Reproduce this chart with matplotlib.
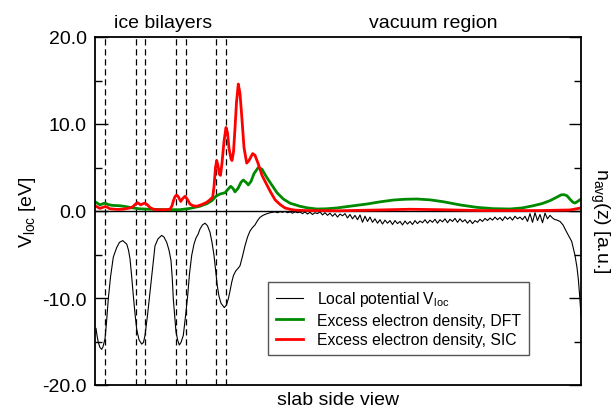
import numpy as np
import matplotlib
matplotlib.use("Agg")
import matplotlib.pyplot as plt
from matplotlib.ticker import MultipleLocator

plt.rcParams["font.family"] = ["Liberation Sans", "DejaVu Sans"]
plt.rcParams["mathtext.default"] = "regular"

# positions of the ice bilayer planes (dashed lines)
layer_z = [1.0, 4.1, 5.0, 8.1, 9.1, 12.1, 13.1]

# local potential, structured slab part
vloc_z = [0.1, 0.2, 0.33, 0.5, 0.67, 0.8, 1.0, 1.15, 1.33, 1.55, 1.83, 2.17, 2.45, 2.77,
          3.17, 3.35, 3.5, 3.65, 3.83, 4.0, 4.17, 4.4, 4.67, 4.85, 5.0, 5.25, 5.5, 5.75,
          6.0, 6.3, 6.67, 6.9, 7.17, 7.4, 7.6, 7.73, 7.83, 7.98, 8.1, 8.28, 8.43, 8.6,
          8.83, 9.05, 9.27, 9.45, 9.67, 9.9, 10.1, 10.3, 10.5, 10.75, 11.0, 11.25, 11.5,
          11.7, 11.9, 12.07, 12.23, 12.4, 12.6, 12.93, 13.15, 13.33, 13.5, 13.67, 13.85,
          14.07, 14.3, 14.5, 14.75, 15.0, 15.25, 15.5, 15.75, 16.0, 16.25, 16.5, 16.8,
          17.1, 17.5]
vloc_v = [-13.5, -14.3, -15.1, -15.7, -15.9, -15.6, -14.7, -12.8, -10.1, -7.6, -5.3, -4.2,
          -3.6, -3.4, -3.8, -4.5, -5.5, -7.3, -9.7, -11.8, -13.6, -14.8, -15.3, -15.1,
          -14.3, -12.0, -9.3, -6.5, -4.0, -3.2, -2.8, -3.0, -3.6, -4.5, -5.7, -7.8, -10.1,
          -12.3, -13.9, -14.9, -15.4, -15.1, -14.3, -12.1, -9.7, -7.2, -5.1, -3.8, -3.1,
          -2.7, -2.07, -1.6, -1.4, -1.7, -2.45, -3.6, -5.1, -6.9, -8.6, -9.8, -10.6, -11.1,
          -10.8, -10.1, -9.2, -8.2, -7.4, -6.9, -6.6, -6.3, -5.2, -4.0, -3.0, -2.3, -1.9,
          -1.6, -1.1, -0.73, -0.5, -0.35, -0.2]

# local potential in the vacuum region (noisy plateau), sampled on a regular grid
vloc_vac = [-0.15, -0.1, -0.2, -0.08, -0.15, -0.05, -0.2, -0.1, -0.25, -0.1, -0.2, -0.12,
            -0.3, -0.1, -0.35, -0.15, -0.4, -0.2, -0.3, -0.1, -0.45, -0.2,
            -0.5, -0.25, -0.6, -0.3, -0.7, -0.35, -0.55, -0.3,
            -0.8, -0.4, -0.9, -0.5, -1.0, -0.45, -1.3, -0.6, -1.2, -0.7,
            -1.3, -0.9, -1.4, -1.0, -1.5, -1.05, -1.4, -1.1, -1.55, -1.1,
            -1.45, -1.2, -1.6, -1.15, -1.5, -1.2, -1.55, -1.1, -1.45, -1.15,
            -1.35, -1.0, -1.4, -1.05, -1.3, -0.95, -1.4, -1.0, -1.25, -0.9,
            -1.35, -0.95, -1.2, -0.85, -1.3, -0.9, -1.25, -1.0,
            -1.4, -1.05, -1.45, -1.1, -1.3, -0.95, -1.2, -0.85, -1.1, -0.8,
            -1.05, -0.7, -1.0, -0.75, -1.1, -0.65, -0.95, -0.7, -1.05, -0.6, -0.9, -0.7,
            -1.0, -0.6,
            -1.2, -0.3, -1.3, -0.2, -1.1, -0.4, -1.35, -0.25, -0.9, -0.5, -0.8, -1.0]
vac_start, vac_end = 17.75, 46.0

# drop of the potential at the right edge
edge_z = [46.1, 46.5, 46.8, 47.2, 47.67, 48.0, 48.2, 48.33, 48.45, 48.55, 48.6]
edge_v = [-1.0, -1.2, -1.6, -2.5, -3.5, -5.1, -6.5, -7.8, -9.5, -11.2, -12.0]

# excess electron density, SIC
sic_z = [0.1, 0.5, 0.8, 1.0, 1.2, 1.5, 2.2, 2.8, 3.5, 3.8, 4.1, 4.27, 4.4, 4.57, 4.75,
         5.0, 5.2, 5.5, 5.8, 6.2, 7.0, 7.5, 7.7, 7.85, 8.0, 8.17, 8.35, 8.57, 8.75, 9.0,
         9.2, 9.5, 9.8, 10.2, 10.7, 11.17, 11.5, 11.77, 11.9, 12.05, 12.17, 12.3, 12.45,
         12.55, 12.7, 12.9, 13.1, 13.25, 13.4, 13.6, 13.7, 13.85, 14.0, 14.15, 14.33,
         14.5, 14.7, 14.9, 15.17, 15.4, 15.77, 16.0, 16.3, 16.7, 17.1, 17.5, 18.0, 18.5,
         19.0, 19.5, 20.0, 21.0, 24.5, 28.5, 31.5, 34.5, 38.5, 44.5, 47.5, 48.6]
sic_n = [0.54, 0.3, 0.42, 0.5, 0.45, 0.25, 0.18, 0.2, 0.35, 0.5, 0.85, 0.95, 0.85, 0.7,
         0.82, 0.9, 0.75, 0.4, 0.22, 0.15, 0.15, 0.2, 0.6, 1.2, 1.65, 1.84, 1.6, 1.1, 1.4,
         1.69, 1.4, 0.8, 0.6, 0.55, 0.75, 1.0, 1.3, 1.6, 2.8, 5.0, 5.8, 5.2, 4.2, 4.1, 5.5,
         8.0, 9.6, 9.0, 7.2, 6.0, 5.8, 6.8, 9.5, 12.5, 14.6, 13.5, 10.5, 7.3, 5.5, 5.8,
         6.6, 6.4, 5.5, 4.1, 3.2, 2.3, 1.3, 0.75, 0.35, 0.2, 0.1, 0.05, 0.03, 0.12, 0.2,
         0.15, 0.05, 0.05, 0.12, 0.35]

# excess electron density, DFT
dft_z = [0.1, 0.3, 0.5, 0.8, 1.0, 1.3, 1.7, 2.5, 3.1, 3.8, 4.5, 5.5, 7.0, 8.5, 9.5, 10.5,
         11.2, 11.7, 12.1, 12.5, 13.0, 13.3, 13.57, 13.8, 14.0, 14.3, 14.6, 14.83, 15.1,
         15.33, 15.6, 15.9, 16.33, 16.7, 17.1, 17.5, 18.2, 18.83, 19.5, 20.5, 21.3, 22.17,
         23.1, 24.17, 25.5, 27.17, 28.5, 29.83, 31.0, 32.17, 33.5, 34.8, 36.5, 38.17, 39.8,
         41.5, 42.7, 43.8, 44.7, 45.5, 46.2, 46.6, 46.9, 47.2, 47.5, 47.8, 48.0, 48.2,
         48.5, 48.6]
dft_n = [1.0, 0.85, 0.7, 0.85, 0.9, 0.75, 0.65, 0.6, 0.5, 0.35, 0.25, 0.2, 0.15, 0.15,
         0.3, 0.55, 0.85, 1.2, 1.7, 1.95, 2.1, 2.5, 2.84, 2.6, 2.2, 2.6, 3.3, 3.56, 3.3,
         3.0, 3.4, 4.3, 5.0, 4.8, 4.0, 3.3, 2.1, 1.38, 0.9, 0.54, 0.35, 0.23, 0.25, 0.35,
         0.55, 0.8, 1.05, 1.26, 1.35, 1.38, 1.28, 1.07, 0.7, 0.42, 0.27, 0.23, 0.35, 0.6,
         0.85, 1.19, 1.6, 1.85, 1.88, 1.75, 1.35, 1.0, 0.92, 1.05, 1.3, 1.35]

vac_z = np.linspace(vac_start, vac_end, len(vloc_vac))
z_all = np.concatenate([vloc_z, vac_z, edge_z])
v_all = np.concatenate([vloc_v, vloc_vac, edge_v])

fig = plt.figure(figsize=(6.13, 4.10), dpi=100)
ax = fig.add_axes([95 / 613, 24 / 410, 486 / 613, 348 / 410])

for z in layer_z:
    ax.axvline(z, color="black", lw=0.9, ls=(0, (5, 3)), zorder=1)
ax.axhline(0, color="black", lw=1.0, zorder=1)

ax.plot(z_all, v_all, color="black", lw=0.8, label="Local potential V$_{loc}$", zorder=3)
ax.plot(dft_z, dft_n, color="#008a00", lw=2.0, label="Excess electron density, DFT", zorder=2)
ax.plot(sic_z, sic_n, color="#ff0000", lw=2.0, label="Excess electron density, SIC", zorder=2)

ax.set_xlim(0, 48.6)
ax.set_ylim(-20, 20)
ax.set_xticks([])
ax.yaxis.set_minor_locator(MultipleLocator(5))
ax.set_yticks([-20, -10, 0, 10, 20])
ax.set_yticklabels(["-20.0", "-10.0", "0.0", "10.0", "20.0"])
ax.tick_params(axis="y", which="major", direction="in", length=9, width=1.0,
               right=True, labelsize=14, pad=6)
ax.tick_params(axis="y", which="minor", direction="in", length=5, width=1.0, right=True)
for s in ax.spines.values():
    s.set_linewidth(1.3)

ax.set_xlabel("slab side view", fontsize=14, labelpad=4)
fig.text(27 / 613, 1 - 212 / 410, "V$_{loc}$ [eV]", rotation=90, fontsize=14,
         ha="center", va="center")
fig.text(600 / 613, 1 - 221 / 410, "n$_{avg}$(z) [a.u.]", rotation=270, fontsize=14,
         ha="center", va="center")

ax.text(6.8, 1.03, "ice bilayers", transform=ax.get_xaxis_transform(),
        fontsize=14, ha="center", va="baseline")
ax.text(33.8, 1.03, "vacuum region", transform=ax.get_xaxis_transform(),
        fontsize=14, ha="center", va="baseline")

leg = ax.legend(loc="lower left", bbox_to_anchor=(0.356, 0.086), fontsize=11.3,
                frameon=True, fancybox=False, edgecolor="#555555", framealpha=1,
                handlelength=1.7, handletextpad=0.9, labelspacing=0.28,
                borderpad=0.5, borderaxespad=0)
leg.get_frame().set_linewidth(1.0)

fig.savefig("out.png", dpi=100)
